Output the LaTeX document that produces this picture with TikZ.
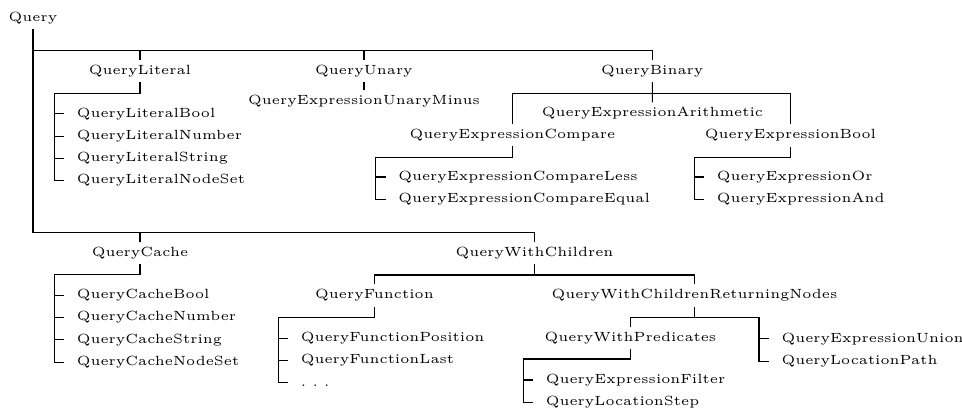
\documentclass[tikz,border=0pt]{standalone}
\usepackage{tikz}
\usetikzlibrary{positioning}
\tikzset{
  cls/.style={font=\tiny, inner sep=0pt, minimum height=7.9pt,
    text height=3.5pt, text depth=1pt},
  leaf/.style={cls, anchor=west, inner xsep=4.5pt, minimum height=7.95pt},
  nextleaf/.style={leaf, below=0pt of #1.south west, anchor=north west},
  line/.style={line width=0.4pt, color=black}
}

\begin{document}
\begin{tikzpicture}[x=0.375pt, y=0.375pt]
  \useasboundingbox (0,0) rectangle (962,-408);

  % class names of the hierarchy
  \node[cls] (query) at (33,-18) {Query};
  \node[cls] (literal) at (140,-71) {QueryLiteral};
  \node[cls] (unary) at (364,-71) {QueryUnary};
  \node[cls] (binary) at (652.3,-71) {QueryBinary};
  \node[cls] (minus) at (364,-101.5) {QueryExpressionUnaryMinus};
  \node[cls] (arith) at (652.5,-113.5) {QueryExpressionArithmetic};
  \node[cls] (compare) at (512.5,-135) {QueryExpressionCompare};
  \node[cls] (ebool) at (790.5,-135.5) {QueryExpressionBool};
  \node[cls] (cache) at (140,-253) {QueryCache};
  \node[cls] (withch) at (534.5,-253) {QueryWithChildren};
  \node[cls] (func) at (374.5,-295.5) {QueryFunction};
  \node[cls] (wcrn) at (694.5,-295.5) {QueryWithChildrenReturningNodes};
  \node[cls] (wpred) at (630.5,-338) {QueryWithPredicates};

  % leaf lists
  \node[leaf] (litbool) at (64.3,-113.8) {QueryLiteralBool};
  \node[nextleaf=litbool] (litnum) {QueryLiteralNumber};
  \node[nextleaf=litnum] (litstr) {QueryLiteralString};
  \node[nextleaf=litstr] (litset) {QueryLiteralNodeSet};

  \node[leaf] (cless) at (385.8,-177) {QueryExpressionCompareLess};
  \node[nextleaf=cless] (cequal) {QueryExpressionCompareEqual};

  \node[leaf] (eor) at (704.4,-177) {QueryExpressionOr};
  \node[nextleaf=eor] (eand) {QueryExpressionAnd};

  \node[leaf] (cbool) at (64.3,-295.3) {QueryCacheBool};
  \node[nextleaf=cbool] (cnum) {QueryCacheNumber};
  \node[nextleaf=cnum] (cstr) {QueryCacheString};
  \node[nextleaf=cstr] (cset) {QueryCacheNodeSet};

  \node[leaf] (fpos) at (288.3,-338.3) {QueryFunctionPosition};
  \node[nextleaf=fpos] (flast) {QueryFunctionLast};
  \node[nextleaf=flast] (fmore) {.~.~.};

  \node[leaf] (eunion) at (769,-338.8) {QueryExpressionUnion};
  \node[nextleaf=eunion] (lpath) {QueryLocationPath};

  \node[leaf] (efilter) at (533.3,-380) {QueryExpressionFilter};
  \node[nextleaf=efilter] (lstep) {QueryLocationStep};

  % bar heights and spine corners
  \coordinate (bar1) at (0,-50.5);
  \coordinate (bar2) at (0,-232.3);
  \coordinate (bar3) at (0,-93.3);
  \coordinate (bar4) at (0,-275);
  \coordinate (bar5) at (0,-317.3);
  \coordinate (litspine) at (54.3,-93.3);
  \coordinate (cmpspine) at (375.8,-157.3);
  \coordinate (boolspine) at (694.4,-157.3);
  \coordinate (cachespine) at (54.3,-274.5);
  \coordinate (funcspine) at (278.3,-317.3);
  \coordinate (unspine) at (759,-317.3);
  \coordinate (predspine) at (523.3,-359);

  % branches
  \draw[line] (query.south) |- (bar1 -| binary) -- (binary.north);
  \draw[line] (query.south) |- (bar2 -| withch) -- (withch.north);
  \draw[line] (literal.north) -- (literal |- bar1);
  \draw[line] (unary.north) -- (unary |- bar1);
  \draw[line] (cache.north) -- (cache |- bar2);
  \draw[line] (unary) -- (minus);
  \draw[line] (binary) -- (arith);
  \draw[line] (compare.north) |- (bar3 -| ebool) -- (ebool.north);
  \draw[line] (withch.south) -- (withch |- bar4);
  \draw[line] (func.north) |- (bar4 -| wcrn) -- (wcrn.north);
  \draw[line] (wcrn.south) -- (wcrn |- bar5);
  \draw[line] (wpred.north) |- (unspine) |- (lpath.west);
  \draw[line] (unspine |- eunion) -- (eunion.west);

  % lists
  \draw[line] (literal.south) |- (litspine) |- (litset.west);
  \draw[line] (litspine |- litbool) -- (litbool.west);
  \draw[line] (litspine |- litnum) -- (litnum.west);
  \draw[line] (litspine |- litstr) -- (litstr.west);

  \draw[line] (compare.south) |- (cmpspine) |- (cequal.west);
  \draw[line] (cmpspine |- cless) -- (cless.west);

  \draw[line] (ebool.south) |- (boolspine) |- (eand.west);
  \draw[line] (boolspine |- eor) -- (eor.west);

  \draw[line] (cache.south) |- (cachespine) |- (cset.west);
  \draw[line] (cachespine |- cbool) -- (cbool.west);
  \draw[line] (cachespine |- cnum) -- (cnum.west);
  \draw[line] (cachespine |- cstr) -- (cstr.west);

  \draw[line] (func.south) |- (funcspine) |- (fmore.west);
  \draw[line] (funcspine |- fpos) -- (fpos.west);
  \draw[line] (funcspine |- flast) -- (flast.west);

  \draw[line] (wpred.south) |- (predspine) |- (lstep.west);
  \draw[line] (predspine |- efilter) -- (efilter.west);
\end{tikzpicture}
\end{document}
